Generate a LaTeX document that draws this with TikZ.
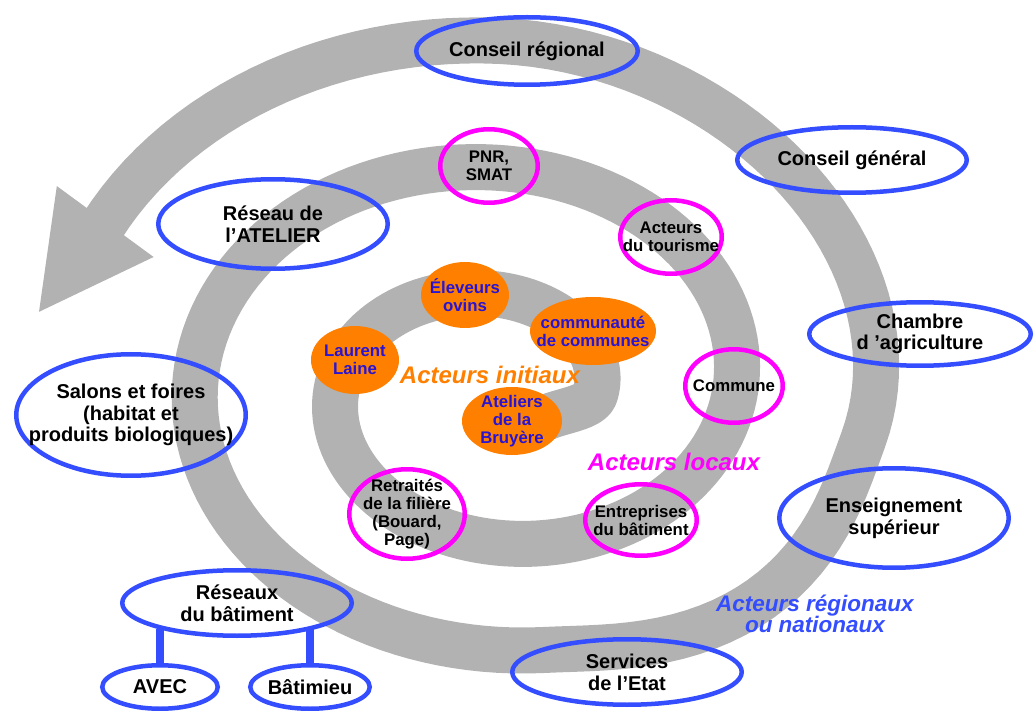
\documentclass[tikz,border=0pt]{standalone}
\usepackage{fontspec}
\setmainfont{Liberation Sans}
\usetikzlibrary{shapes.geometric,calc}
\definecolor{bandgray}{HTML}{B2B2B2}
\definecolor{eblue}{RGB}{51,77,255}
\definecolor{emag}{RGB}{255,0,255}
\definecolor{eorange}{RGB}{255,128,0}
\definecolor{tblue}{RGB}{40,20,210}
\newcommand{\fbig}{\fontsize{20}{21.7}\selectfont\bfseries}
\newcommand{\fsmall}{\fontsize{16.8}{18}\selectfont\bfseries}
\newcommand{\flabA}{\fontsize{24}{26}\selectfont\bfseries\itshape}
\newcommand{\flabB}{\fontsize{22.5}{21.7}\selectfont\bfseries\itshape}
% radial correction bumps of the spiral (theta in degrees)
\newcommand{\bmp}[1]{(20*max(0,1-((#1-672)/35)^2)^2-8*max(0,1-((#1-760)/50)^2)^2)}
\tikzset{
  bigtxt/.style={inner sep=0pt, align=center, font=\fbig, text=black},
  smalltxt/.style={inner sep=0pt, align=center, font=\fsmall, text=black},
  initxt/.style={inner sep=0pt, align=center, font=\fsmall, text=tblue},
  regell/.style={ellipse, draw=eblue, line width=4.5pt, inner sep=0pt, label={[bigtxt]center:{#1}}},
  locell/.style={ellipse, draw=emag, line width=4.5pt, inner sep=0pt, label={[smalltxt]center:{#1}}},
  iniell/.style={ellipse, fill=eorange, inner sep=0pt, label={[initxt]center:{#1}}},
  sz/.style 2 args={minimum width=#1, minimum height=#2},
  bar/.style={draw=eblue, line width=8pt}
}
\begin{document}
\begin{tikzpicture}[x=1pt,y=-1pt]
\useasboundingbox (0,0) rectangle (1034,711);
% spiral band
\draw[bandgray, line width=46pt, line join=round]
  (545,418) .. controls (561.4,410.6) and (590.7,408) .. (595,394.75)
  -- plot[domain=0:876, samples=360]
  ({501+(94+0.391667*\x+\bmp{\x})*cos(\x)}, {394.75-0.0277778*\x-(68+0.325*\x+\bmp{\x})*sin(\x)});
\coordinate (E) at ({501+(94+0.391667*875)*cos(875)}, {394.75-0.0277778*875-(68+0.325*875)*sin(875)});
\coordinate (Ep) at ({501+(94+0.391667*870)*cos(870)}, {394.75-0.0277778*870-(68+0.325*870)*sin(870)});
\fill[bandgray] ($(E)!60pt!90:(Ep)$) -- ($(E)!-112pt!(Ep)$) -- ($(E)!60pt!-90:(Ep)$) -- cycle;

% regional / national actors
\node[regell={Conseil régional}, sz={221.5pt}{67.5pt}] (cr) at (527,51) {};
\node[regell={Conseil général}, sz={229.5pt}{65.5pt}] (cg) at (852,160) {};
\node[regell={Chambre\\d ’agriculture}, sz={221.5pt}{63.5pt}] (ca) at (920,334) {};
\node[regell={Enseignement\\supérieur}, sz={229.5pt}{99.5pt}] (es) at (894,518) {};
\node[regell={Services\\de l’Etat}, sz={229.5pt}{65.5pt}] (se) at (627,672) {};
\node[regell={Réseaux\\du bâtiment}, sz={229.5pt}{65.5pt}] (rb) at (237,603) {};
\node[regell={AVEC}, sz={115.5pt}{43.5pt}] (avec) at (160,687) {};
\node[regell={Bâtimieu}, sz={119.5pt}{43.5pt}] (bat) at (310,687) {};
\node[regell={Salons et foires\\(habitat et\\produits biologiques)}, sz={229.5pt}{121.5pt}] (sf) at (131,415) {};
\node[regell={Réseau de\\l’ATELIER}, sz={229.5pt}{89.5pt}] (ra) at (273,224) {};
\draw[bar] (avec.north) -- (avec.north |- rb.198);
\draw[bar] (bat.north) -- (bat.north |- rb.-18);

% local actors
\node[locell={PNR,\\SMAT}, sz={97.5pt}{73.5pt}] (pnr) at (489,166) {};
\node[locell={Acteurs\\du tourisme}, sz={101.5pt}{73.5pt}] (tour) at (671,237) {};
\node[locell={Commune}, sz={97.5pt}{73.5pt}] (comm) at (734,386) {};
\node[locell={Entreprises\\du bâtiment}, sz={111.5pt}{71.5pt}] (ent) at (641,520) {};
\node[locell={Retraités\\de la filière\\(Bouard,\\Page)}, sz={115.5pt}{89.5pt}] (ret) at (407,514) {};

% initial actors
\node[iniell={Éleveurs\\ovins}, sz={88pt}{66pt}] (elev) at (465,295) {};
\node[iniell={communauté\\de communes}, sz={126pt}{68pt}] (cdc) at (593,331) {};
\node[iniell={Laurent\\Laine}, sz={88pt}{68pt}] (ll) at (355,360) {};
\node[iniell={Ateliers\\de la\\Bruyère}, sz={100pt}{68pt}] (atl) at (512,421) {};

% group labels
\node[font=\flabA, text=eorange, inner sep=0pt] (ai) at (490,375) {Acteurs initiaux};
\node[font=\flabA, text=emag, inner sep=0pt] (al) at (674,462) {Acteurs locaux};
\node[font=\flabB, text=eblue, inner sep=0pt, align=center] (ar) at (815,614) {Acteurs régionaux\\ou nationaux};
\end{tikzpicture}
\end{document}
